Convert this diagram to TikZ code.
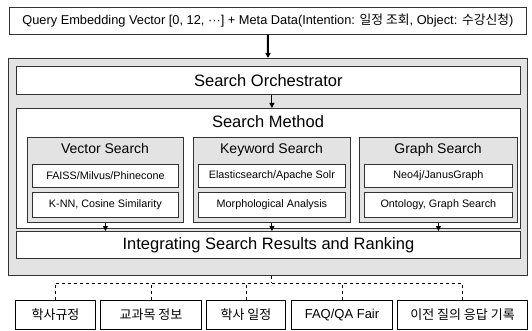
\documentclass[tikz,border=0pt]{standalone}
\usepackage{fontspec}
\setmainfont{Liberation Sans}
\newfontfamily\kr{Noto Sans CJK KR}
\usetikzlibrary{arrows.meta}

\begin{document}
\begin{tikzpicture}[x=1pt,y=-1pt,
    box/.style={draw=black!80,line width=0.8pt,fill=white,inner sep=0pt,anchor=north west},
    graybox/.style={box,fill=black!11},
    link/.style={-{Triangle[length=5pt,width=5pt]},line width=1pt},
    feed/.style={dashed,line width=1pt}]
    \useasboundingbox (0,0) rectangle (532,331);

    % query and the outer frame
    \node[box,minimum width=517pt,minimum height=27pt,font=\fontsize{12.8}{14}\selectfont] (query) at (9,7)
      {Query Embedding Vector [0, 12, ···] + Meta Data(Intention: {\kr 일정 조회}, Object: {\kr 수강신청})};
    \node[graybox,line width=1pt,minimum width=519pt,minimum height=217pt] (frame) at (8,58) {};
    \draw[link,line width=2pt] (query.south) -- (frame.north);

    \node[box,minimum width=504pt,minimum height=28pt,font=\fontsize{16.5}{18}\selectfont] (orch) at (16,66) {Search Orchestrator};
    \node[box,minimum width=504pt,minimum height=120pt] (method) at (16,108) {};
    \node[font=\fontsize{16.5}{18}\selectfont] (mlabel) at (268,122) {Search Method};

    % the three search columns
    \foreach \nm/\x/\w/\head/\one/\two in {
        vec/27/156/{Vector Search}/{FAISS/Milvus/Phinecone}/{K-NN, Cosine Similarity},
        key/193/157/{Keyword Search}/{Elasticsearch/Apache Solr}/{Morphological Analysis},
        graph/359/158/{Graph Search}/{Neo4j/JanusGraph}/{Ontology, Graph Search}} {
      \node[graybox,minimum width=\w pt,minimum height=85pt] (\nm) at (\x,137) {};
      \node[font=\fontsize{14}{16}\selectfont,text height=10pt,text depth=3pt,anchor=center] (\nm head) at (\x+\w/2,150) {\head};
      \node[box,minimum width=\w pt-10pt,minimum height=23pt,font=\fontsize{10.8}{12}\selectfont] (\nm1) at (\x+5,164) {\one};
      \node[box,minimum width=\w pt-10pt,minimum height=25pt,font=\fontsize{10.8}{12}\selectfont] (\nm2) at (\x+5,192) {\two};
    }

    \node[box,minimum width=504pt,minimum height=27pt,font=\fontsize{16.5}{18}\selectfont] (rank) at (16,231)
      {Integrating Search Results and Ranking};

    \draw[link] (orch.south -| key.south) -- (method.north -| key.south);
    \foreach \nm in {vec,key,graph}
      \draw[link] (\nm.south) -- (rank.north -| \nm.south);

    % knowledge sources
    \foreach \nm/\x/\w/\txt in {
        rule/15/80/{\kr 학사규정},
        course/100/101/{\kr 교과목 정보},
        cal/206/79/{\kr 학사 일정},
        faq/291/101/{FAQ/QA Fair},
        hist/397/130/{\kr 이전 질의 응답 기록}} {
      \node[box,line width=1pt,draw=black,minimum width=\w pt,minimum height=29pt,font=\fontsize{13}{14}\selectfont] (\nm) at (\x,300) {\txt};
    }
    \coordinate (bus) at (0,283);
    \draw[feed] (rule.north |- bus) -- (hist.north |- bus);
    \draw[feed] (frame.south -| key.south) -- (bus -| key.south);
    \foreach \nm in {rule,course,cal,faq,hist}
      \draw[feed] (\nm.north) -- (bus -| \nm.north);
\end{tikzpicture}
\end{document}
